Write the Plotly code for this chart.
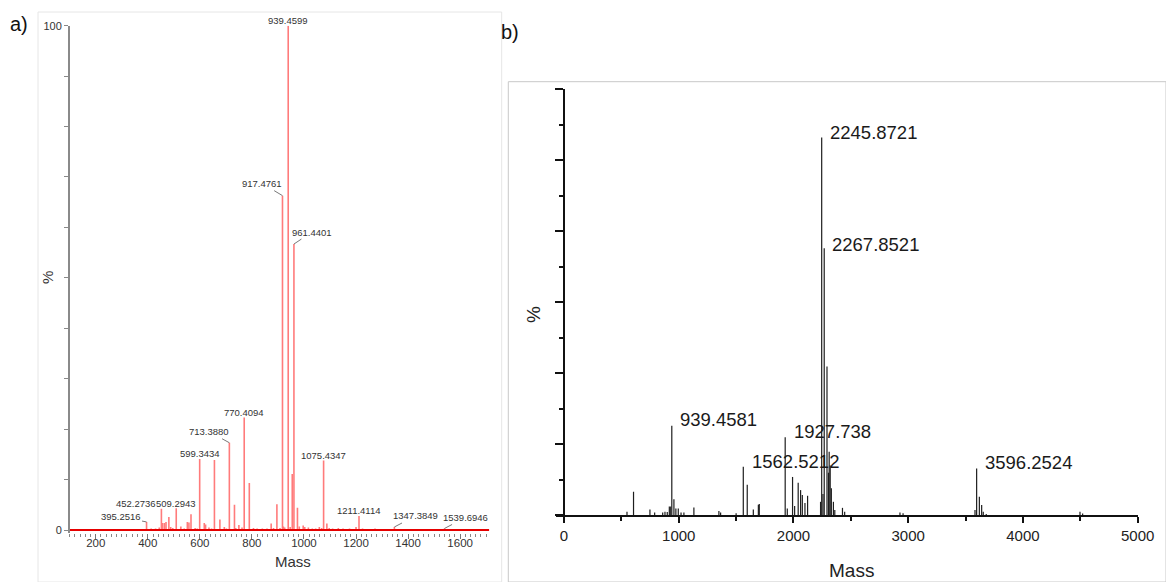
import plotly.graph_objects as go

W, H = 1166, 582

# ---------------- Panel a data (mass, relative intensity %) ----------------
mass_a = [395.2516, 413, 430, 444, 452.2736, 457, 464, 470, 481, 488, 496,
          509.2943, 527, 540, 552, 558, 566, 582, 590, 599.3434, 617, 622,
          635, 645, 656, 677, 694, 702, 713.3880, 733, 738, 750, 762,
          770.4094, 790, 806, 820, 840, 858, 874, 883, 896, 908, 917.4761,
          921, 926, 939.4599, 947, 955, 961.4401, 975, 982, 997, 1003, 1017,
          1032, 1045, 1059, 1068, 1075.4347, 1088, 1097, 1110, 1132, 1150,
          1175, 1200, 1211.4114, 1225, 1240, 1273, 1300, 1347.3849, 1400,
          1430, 1480, 1539.6946, 1600]
int_a = [1.6, 0.3, 0.3, 0.5, 4.2, 1.4, 1.4, 1.6, 2.6, 0.6, 0.4,
         4.3, 0.7, 0.3, 1.6, 1.5, 3.1, 0.4, 0.3, 14.1, 1.4, 1.1,
         0.5, 0.3, 13.9, 2.1, 0.6, 0.3, 17.3, 5.0, 0.4, 1.0, 0.5,
         22.3, 9.3, 0.4, 0.3, 0.3, 0.3, 1.3, 0.4, 5.1, 0.4, 66.3,
         0.7, 0.5, 100.0, 0.6, 11.1, 56.7, 4.4, 0.7, 0.9, 0.6, 0.5,
         0.3, 0.3, 0.6, 0.4, 13.8, 1.3, 0.4, 0.3, 0.4, 0.3,
         0.3, 0.6, 2.8, 0.3, 0.2, 0.3, 0.2, 0.6, 0.2,
         0.2, 0.2, 0.3, 0.2]
labels_a = ["395.2516", "452.2736", "509.2943", "599.3434", "713.3880",
            "770.4094", "917.4761", "939.4599", "961.4401", "1075.4347",
            "1211.4114", "1347.3849", "1539.6946"]
xticks_a = [200, 400, 600, 800, 1000, 1200, 1400, 1600]
yticks_a = [0, 10, 20, 30, 40, 50, 60, 70, 80, 90, 100]

# ---------------- Panel b data ----------------
mass_b = [549, 606, 749, 790, 860, 880, 900, 918, 930, 939.4581, 958, 975,
          996, 1020, 1045, 1132, 1350, 1365, 1500, 1562.5212, 1597, 1650,
          1694, 1702, 1927.738, 1946, 1992, 2010, 2041, 2062, 2077, 2100,
          2123, 2236, 2245.8721, 2257, 2267.8521, 2292, 2305, 2311, 2320,
          2330, 2348, 2360, 2427, 2446, 2928, 2955, 3582, 3596.2524, 3620,
          3640, 3654, 3680, 4497, 4520]
int_b = [1.0, 6.6, 1.6, 0.8, 0.8, 1.0, 0.9, 2.5, 2.5, 25.2, 4.5, 1.9,
         1.9, 0.8, 0.8, 2.2, 1.2, 0.8, 0.6, 13.7, 8.6, 1.6,
         3.0, 3.2, 22.0, 1.9, 10.8, 2.6, 9.2, 7.1, 5.7, 3.5,
         5.5, 3.8, 106.4, 6.0, 75.2, 41.9, 12.0, 17.9, 14.0,
         7.6, 3.8, 1.5, 2.1, 1.0, 0.8, 0.6, 1.5, 13.2, 5.2,
         2.9, 1.0, 0.4, 1.0, 0.5]
labels_b = ["939.4581", "1562.5212", "1927.738", "2245.8721", "2267.8521",
            "3596.2524"]
xticks_b = [0, 1000, 2000, 3000, 4000, 5000]


def sticks(ms, hs):
    xs, ys = [], []
    for m, h in zip(ms, hs):
        xs += [m, m, None]
        ys += [0, h, None]
    return xs, ys


def px(v):
    return v / W


def py(v):
    return 1 - v / H


fig = go.Figure()

xa, ya = sticks(mass_a, int_a)
fig.add_trace(go.Scatter(x=xa, y=ya, mode="lines", xaxis="x", yaxis="y",
                         line=dict(color="#ff7b7b", width=1.6),
                         hoverinfo="skip", showlegend=False))
fig.add_trace(go.Scatter(x=[100, 1712], y=[0, 0], mode="lines",
                         xaxis="x", yaxis="y",
                         line=dict(color="#e60000", width=2),
                         hoverinfo="skip", showlegend=False))

xb, yb = sticks(mass_b, int_b)
fig.add_trace(go.Scatter(x=xb, y=yb, mode="lines", xaxis="x2", yaxis="y2",
                         line=dict(color="#1e1e1e", width=1.2),
                         hoverinfo="skip", showlegend=False))

# ---- axes geometry (pixel based) ----
a_x0, a_x1 = 69.7, 489.3
a_y0_px, a_y100_px = 530.0, 25.7
a_ppu = (a_y0_px - a_y100_px) / 100.0
a_ymin = -0.5
b_x0px = 564.0
b_ppu_x = 114.74 / 1000.0
b_xmin = -70
b_y0_px, b_ytop_px = 515.3, 89.3

fig.update_layout(
    width=W, height=H, autosize=False,
    margin=dict(l=0, r=0, t=0, b=0, pad=0, autoexpand=False),
    paper_bgcolor="white", plot_bgcolor="white",
    showlegend=False, hovermode=False,
    font=dict(family="Liberation Sans, Arial, sans-serif", color="#222"),
    xaxis=dict(
        domain=[px(a_x0), px(a_x1)], range=[100, 1712], anchor="y",
        tickvals=xticks_a, ticktext=[str(v) for v in xticks_a],
        ticks="outside", ticklen=5, tickwidth=1, tickcolor="#777",
        minor=dict(dtick=20, tick0=0, ticks="outside", ticklen=3,
                   tickwidth=1, tickcolor="#888"),
        showline=False, showgrid=False, zeroline=False,
        ticklabelstandoff=-5,
        tickfont=dict(size=11.5, color="#333"),
    ),
    yaxis=dict(
        domain=[py(a_y0_px - a_ymin * a_ppu), py(a_y100_px)],
        range=[a_ymin, 100], anchor="x",
        tickvals=yticks_a,
        ticktext=["0" if v == 0 else ("100" if v == 100 else "") for v in yticks_a],
        ticks="outside", ticklen=4, tickwidth=1, tickcolor="#888",
        showline=True, linecolor="#8a8a8a", linewidth=1.5,
        showgrid=False, zeroline=False,
        tickfont=dict(size=11, color="#333"),
    ),
    xaxis2=dict(
        domain=[px(b_x0px + b_xmin * b_ppu_x), px(b_x0px + 5000 * b_ppu_x)],
        range=[b_xmin, 5000], anchor="y2",
        tickvals=xticks_b, ticktext=[str(v) for v in xticks_b],
        ticks="outside", ticklen=6, tickwidth=2, tickcolor="#111",
        minor=dict(dtick=500, tick0=0, ticks="outside", ticklen=3.5,
                   tickwidth=2, tickcolor="#111"),
        showline=True, linecolor="#111", linewidth=2,
        showgrid=False, zeroline=False,
        tickfont=dict(size=15, color="#222"),
    ),
    yaxis2=dict(
        domain=[py(b_y0_px), py(b_ytop_px)], range=[0, 120],
        anchor="free", position=px(b_x0px),
        dtick=20, tick0=0, ticks="outside", ticklen=8, tickwidth=2,
        tickcolor="#111", showticklabels=False,
        minor=dict(dtick=10, tick0=0, ticks="outside", ticklen=4,
                   tickwidth=2, tickcolor="#111"),
        showline=True, linecolor="#111", linewidth=2,
        showgrid=False, zeroline=False,
    ),
)

# ---- panel frames ----
fig.add_shape(type="rect", xref="paper", yref="paper",
              x0=px(38), x1=px(501.7), y0=0, y1=py(12),
              line=dict(color="#e6e6e6", width=1), layer="below")
fig.add_shape(type="rect", xref="paper", yref="paper",
              x0=px(508.3), x1=1, y0=0, y1=py(81.7),
              line=dict(color="#c8c8c8", width=1), layer="below")

ann = []
C = dict(xanchor="center", yanchor="middle", xref="paper", yref="paper",
         showarrow=False)
# panel letters
ann.append(dict(text="a)", x=px(19), y=py(24),
                font=dict(size=20, color="#111"), **C))
ann.append(dict(text="b)", x=px(509.5), y=py(32),
                font=dict(size=20, color="#111"), **C))
# axis titles
ann.append(dict(text="%", x=px(47), y=py(278), textangle=-90,
                font=dict(size=15, color="#333"), **C))
ann.append(dict(text="Mass", x=px(293), y=py(561),
                font=dict(size=15, color="#333"), **C))
ann.append(dict(text="%", x=px(533), y=py(315), textangle=-90,
                font=dict(size=19, color="#222"), **C))
ann.append(dict(text="Mass", x=px(851), y=py(570),
                font=dict(size=19, color="#222"), **C))

# panel a peak labels
a_font = dict(size=9.5, color="#333")
a_arrow = {  # label -> (ax, ay) leader offsets
    "395.2516": (-26, -5),
    "713.3880": (-20, -11),
    "917.4761": (-20, -12),
    "961.4401": (18, -12),
    "1347.3849": (21, -11),
    "1539.6946": (21, -11),
}
a_shift = {  # label -> (xshift, yshift) without leader
    "452.2736": (-25, 5),
}
for lab in labels_a:
    m = float(lab)
    idx = min(range(len(mass_a)), key=lambda i: abs(mass_a[i] - m))
    h = int_a[idx]
    if lab in a_arrow:
        ax, ay = a_arrow[lab]
        ann.append(dict(text=lab, x=m, y=h, xref="x", yref="y",
                        showarrow=True, arrowhead=0, arrowwidth=0.8,
                        arrowcolor="#555", ax=ax, ay=ay, standoff=0,
                        startstandoff=0, font=a_font))
    else:
        xs_, ys_ = a_shift.get(lab, (0, 5))
        ann.append(dict(text=lab, x=m, y=h, xref="x", yref="y",
                        showarrow=False, xanchor="center", yanchor="middle",
                        xshift=xs_, yshift=ys_, font=a_font))

# panel b peak labels
b_font = dict(size=18.5, color="#1a1a1a")
b_shift = {
    "939.4581": (6, 6),
    "1562.5212": (7, 5),
    "1927.738": (7, 6),
    "2245.8721": (6, 5),
    "2267.8521": (6, 4),
    "3596.2524": (6, 6),
}
for lab in labels_b:
    m = float(lab)
    idx = min(range(len(mass_b)), key=lambda i: abs(mass_b[i] - m))
    h = int_b[idx]
    xs_, ys_ = b_shift[lab]
    ann.append(dict(text=lab, x=m, y=h, xref="x2", yref="y2",
                    showarrow=False, xanchor="left", yanchor="middle",
                    xshift=xs_, yshift=ys_, font=b_font))

fig.update_layout(annotations=ann)

fig.write_html("out.html")
